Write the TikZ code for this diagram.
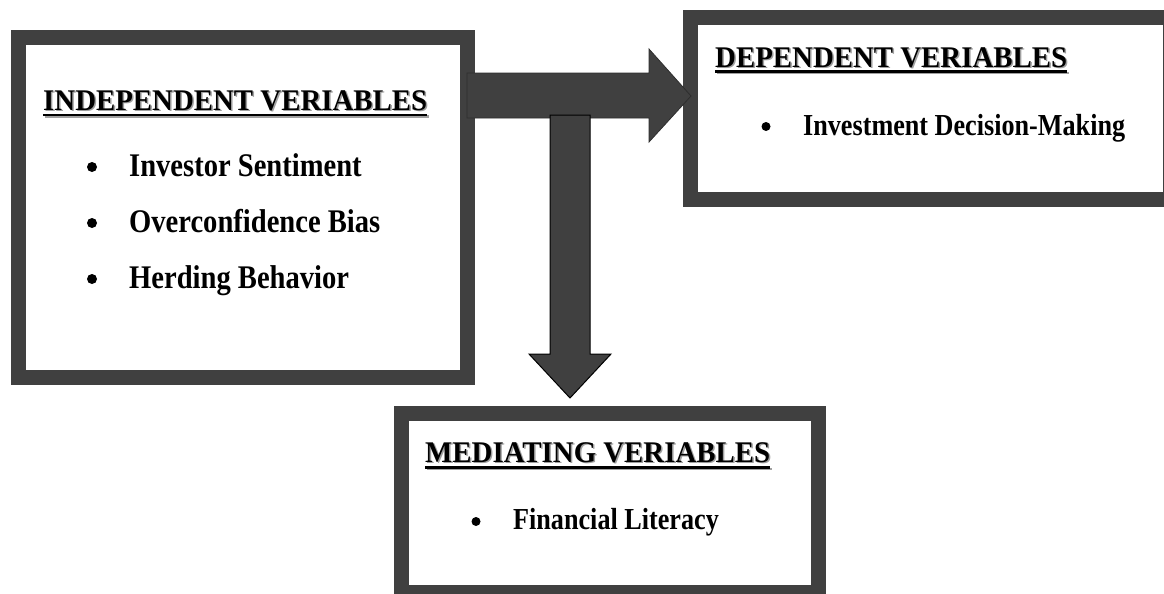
\documentclass[tikz,border=0pt]{standalone}
\usepackage{fontspec}
\setmainfont{Liberation Serif}
\definecolor{boxgray}{HTML}{404040}
\definecolor{shadowgray}{HTML}{A0A0A0}
\definecolor{arrowedge}{HTML}{2E2E2E}
\begin{document}
\begin{tikzpicture}[x=1pt,y=-1pt,
  frame/.style={draw=boxgray, line width=15pt, fill=white, rectangle, inner sep=0pt},
  titletext/.style={font=\fontsize{30}{32}\selectfont\bfseries, inner sep=0pt, anchor=base west, xscale=0.962},
  shadowtext/.style={titletext, text=shadowgray},
  bigitem/.style={font=\fontsize{33}{35}\selectfont\bfseries, inner sep=0pt, anchor=base west, xscale=0.866},
  smallitem/.style={font=\fontsize{30.5}{32}\selectfont\bfseries, inner sep=0pt, anchor=base west, xscale=0.858},
  bulletdot/.style={circle, fill=black, inner sep=0pt, minimum size=#1},
  uline/.style={line width=2.5pt},
  shadowline/.style={line width=2.5pt, draw=shadowgray},
  hblock/.style={fill=boxgray, draw=arrowedge, line width=0.8pt, line join=miter},
  vblock/.style={fill=boxgray, draw=black, line width=1pt, line join=miter}
]
\useasboundingbox (0,0) rectangle (1164,594);
\clip (0,0) rectangle (1164,594);

% frames
\node[frame, minimum width=449pt, minimum height=340pt] (indep) at (243,207.5) {};
\node[frame, minimum width=480.5pt, minimum height=182pt] (dep) at (930.25,108.5) {};
\node[frame, minimum width=417.5pt, minimum height=179.5pt] (med) at (609.75,502.75) {};

% block arrows
\coordinate (hstart) at (467,95.5);
\coordinate (vstart) at (570,115);
\draw[hblock] (hstart) ++(0,-22.5) -- ++(182,0) -- ++(0,-24) -- ++(42,47) -- ++(-42,46) -- ++(0,-24) -- ++(-182,0) -- cycle;
\draw[vblock] (vstart) ++(-20,0) -- ++(40,0) -- ++(0,239) -- ++(21,0) -- ++(-41,44) -- ++(-41,-44) -- ++(21,0) -- cycle;

% titles with shadow
\node[shadowtext] (t1s) at (44.5,111.5) {INDEPENDENT VERIABLES};
\draw[shadowline] ([yshift=-5pt]t1s.base west) -- ([yshift=-5pt]t1s.base east);
\node[titletext] (t1) at (43,110) {INDEPENDENT VERIABLES};
\draw[uline] ([yshift=-5pt]t1.base west) -- ([yshift=-5pt]t1.base east);

\node[shadowtext] (t2s) at (716.5,68.5) {DEPENDENT VERIABLES};
\draw[shadowline] ([yshift=-4.5pt]t2s.base west) -- ([yshift=-4.5pt]t2s.base east);
\node[titletext] (t2) at (715,67) {DEPENDENT VERIABLES};
\draw[uline] ([yshift=-4.5pt]t2.base west) -- ([yshift=-4.5pt]t2.base east);

\node[shadowtext] (t3s) at (426.5,463.5) {MEDIATING VERIABLES};
\draw[shadowline] ([yshift=-5.5pt]t3s.base west) -- ([yshift=-5.5pt]t3s.base east);
\node[titletext] (t3) at (425,462) {MEDIATING VERIABLES};
\draw[uline] ([yshift=-5.5pt]t3.base west) -- ([yshift=-5.5pt]t3.base east);

% items
\node[bulletdot=10pt] (b1) at (92,167) {};
\node[bigitem] (i1) at (129,176) {Investor Sentiment};
\node[bulletdot=10pt] (b2) at (92,223) {};
\node[bigitem] (i2) at (129,232) {Overconfidence Bias};
\node[bulletdot=10pt] (b3) at (92,279) {};
\node[bigitem] (i3) at (129,288) {Herding Behavior};

\node[bulletdot=9pt] (b4) at (766,126.5) {};
\node[smallitem] (i4) at (803,135) {Investment Decision-Making};

\node[bulletdot=9pt] (b5) at (476,521.5) {};
\node[smallitem] (i5) at (513,529) {Financial Literacy};
\end{tikzpicture}
\end{document}
